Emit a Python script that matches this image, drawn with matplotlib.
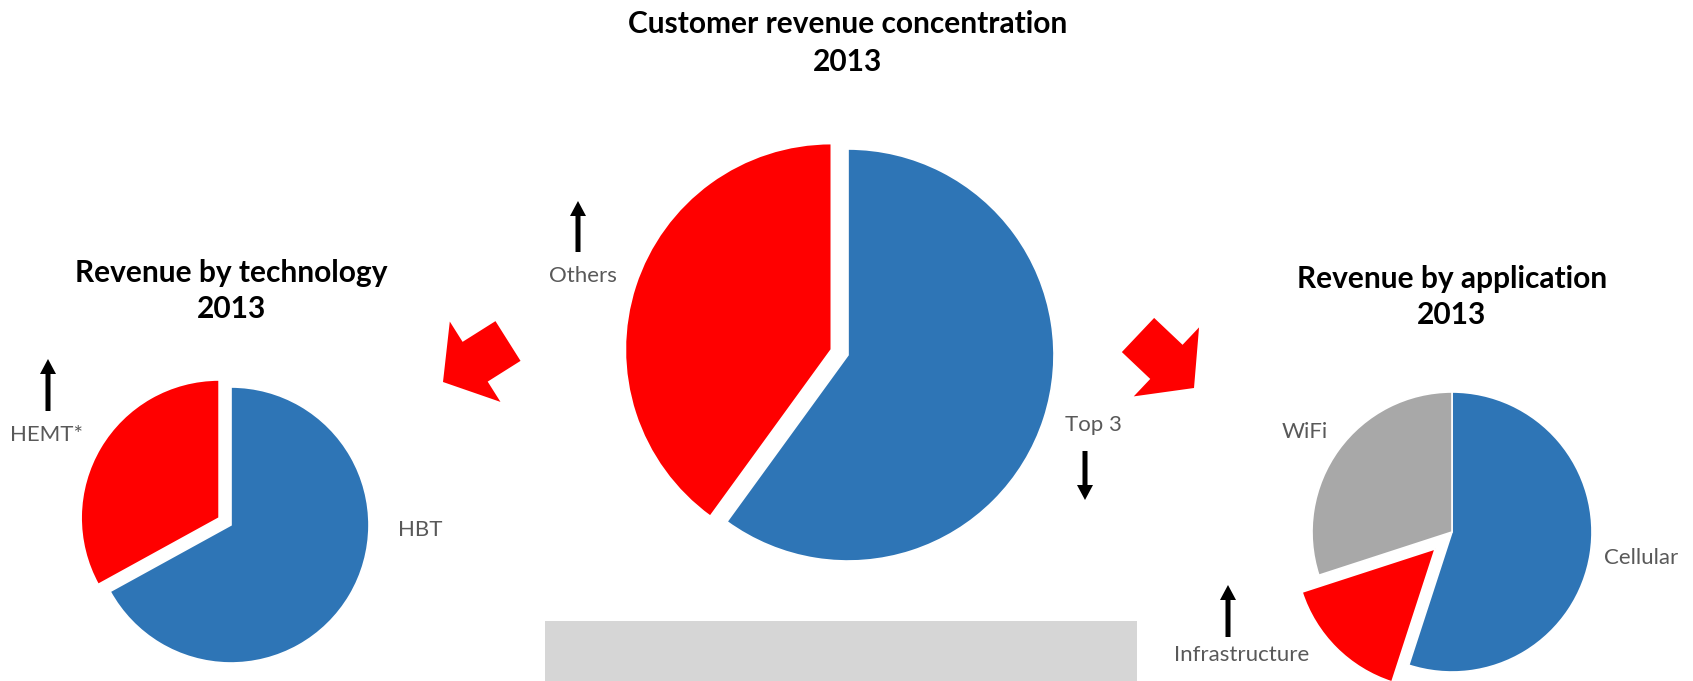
import matplotlib.pyplot as plt
from matplotlib.patches import FancyArrow, Rectangle

# --- data ---
tech_labels = ["HBT", "HEMT*"]
tech_values = [67, 33]

cust_labels = ["Top 3", "Others"]
cust_values = [60, 40]

app_labels = ["Cellular", "Infrastructure", "WiFi"]
app_values = [55, 15, 30]

years = ["2013", "2013", "2013"]
titles = ["Revenue by technology", "Customer revenue concentration", "Revenue by application"]

BLUE = "#2E75B6"
RED = "#FF0000"
GRAY = "#A8A8A8"
TXT = "#595959"

W, H = 1693, 681


def fy(y):
    # pixel row (from top) -> data y (from bottom)
    return H - y


fig = plt.figure(figsize=(W / 100, H / 100), dpi=100)
ax = fig.add_axes([0, 0, 1, 1])

wp = dict(edgecolor="white", linewidth=1.2)


def draw_pie(values, colors, explode, center, r):
    # explode is given as a fraction of the radius; pie() wants data units
    ax.pie(values, colors=colors, explode=[e * r for e in explode],
           startangle=90, counterclock=False, center=center, radius=r,
           wedgeprops=wp)


draw_pie(tech_values, [BLUE, RED], [0, 0.1], (231, fy(525)), 138)
draw_pie(cust_values, [BLUE, RED], [0, 0.085], (848, fy(355)), 206)
draw_pie(app_values, [BLUE, RED, GRAY], [0, 0.17, 0], (1452, fy(532)), 140)

ax.set_xlim(0, W)
ax.set_ylim(0, H)
ax.set_aspect("equal")
ax.axis("off")

# --- titles ---
title_pos = [(231, 273, 309), (848, 24, 62), (1452, 279, 315)]
for t, yr, (x, y1, y2) in zip(titles, years, title_pos):
    ax.text(x, fy(y1), t, ha="center", va="center", fontsize=21.5,
            fontweight="bold", family="Lato", color="black")
    ax.text(x, fy(y2), yr, ha="center", va="center", fontsize=21.5,
            fontweight="bold", family="Lato", color="black")

# --- slice labels ---
lab_pos = {
    "HBT": (420, 530), "HEMT*": (46, 435),
    "Top 3": (1093, 425), "Others": (583, 276),
    "Cellular": (1641, 558), "Infrastructure": (1242, 655), "WiFi": (1305, 432),
}
for lab in tech_labels + cust_labels + app_labels:
    x, y = lab_pos[lab]
    ax.text(x, fy(y), lab, ha="center", va="center", fontsize=16,
            family="Lato", color=TXT)

# --- small trend arrows (x, y_start, y_end) ---
small = [(48, 411, 359), (578, 252, 201), (1085, 451, 500), (1228, 637, 585)]
for x, y0, y1 in small:
    ax.add_patch(FancyArrow(x, fy(y0), 0, -(y1 - y0), width=5, head_width=16,
                            head_length=15, length_includes_head=True,
                            color="black", lw=0))

# --- big red block arrows (tail centre -> tip) ---
big = [((508, 341), (443, 382)), ((1138, 335), (1194, 388))]
for (x0, y0), (x1, y1) in big:
    ax.add_patch(FancyArrow(x0, fy(y0), x1 - x0, -(y1 - y0), width=47,
                            head_width=95, head_length=38,
                            length_includes_head=True, color=RED, lw=0))

# --- grey box at the bottom ---
ax.add_patch(Rectangle((545, 0), 592, 60, color="#D6D6D6", lw=0))

fig.savefig("out.png", dpi=100)
